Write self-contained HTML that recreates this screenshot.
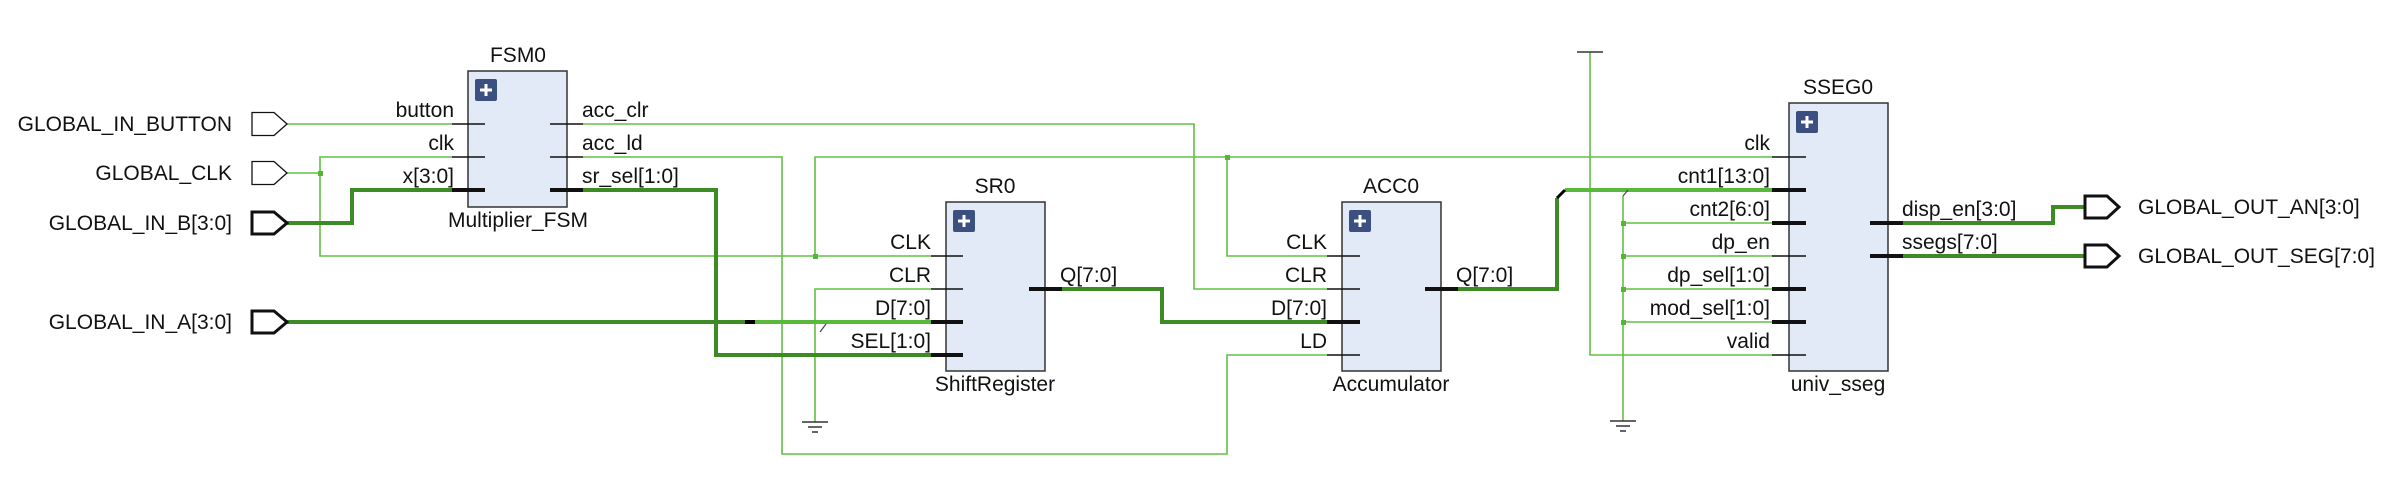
<!DOCTYPE html>
<html><head><meta charset="utf-8"><style>
html,body{margin:0;padding:0;background:#fff;}
svg{display:block;}
text{font-family:"Liberation Sans",sans-serif;font-size:21px;fill:#111;}
</style></head><body>
<svg width="2392" height="482" viewBox="0 0 2392 482" xmlns="http://www.w3.org/2000/svg">
<g fill="none" stroke-linejoin="miter">
<g stroke="#62c043" stroke-width="1.6">
<polyline points="287,124 452,124"/>
<polyline points="583,124 1194,124 1194,289 1327,289"/>
<polyline points="287,173 320,173"/>
<polyline points="452,157 320,157 320,256 931,256"/>
<polyline points="815,256 815,157 1772,157"/>
<polyline points="1227,157 1227,256 1327,256"/>
<polyline points="583,157 782,157 782,454 1227,454 1227,355 1327,355"/>
<polyline points="931,289 815,289 815,422"/>
<polyline points="1590,52 1590,355 1772,355"/>
<polyline points="1623,196 1623,421"/>
<polyline points="1623,223 1772,223"/>
<polyline points="1623,256 1772,256"/>
<polyline points="1623,289 1772,289"/>
<polyline points="1623,322 1772,322"/>
</g>
<g stroke="#3d8b25" stroke-width="4">
<polyline points="287,223 352,223 352,190 452,190"/>
<polyline points="583,190 716,190 716,355 931,355"/>
<polyline points="287,322 753,322"/>
<polyline points="1062,289 1162,289 1162,322 1327,322"/>
<polyline points="1458,289 1557,289 1557,198"/>
<polyline points="1903,223 2053,223 2053,207 2085,207"/>
<polyline points="1903,256 2085,256"/>
</g>
<g stroke="#5ab83c" stroke-width="4">
<polyline points="753,322 931,322"/>
<polyline points="1565,190 1772,190"/>
</g>
<line x1="1557" y1="198" x2="1565" y2="190" stroke="#000" stroke-width="3"/>
<line x1="820" y1="332" x2="826" y2="324" stroke="#444" stroke-width="1.2"/>
<line x1="1623" y1="196" x2="1628" y2="190" stroke="#444" stroke-width="1.2"/>
<line x1="745" y1="322" x2="755" y2="322" stroke="#000" stroke-width="4"/>
<line x1="1577" y1="52" x2="1603" y2="52" stroke="#333" stroke-width="1.5"/>
<g stroke="#333" stroke-width="1.5">
<line x1="802" y1="422" x2="828" y2="422"/><line x1="808" y1="427" x2="822" y2="427"/><line x1="812" y1="432" x2="818" y2="432"/>
<line x1="1610" y1="421" x2="1636" y2="421"/><line x1="1616" y1="426" x2="1630" y2="426"/><line x1="1620" y1="431" x2="1626" y2="431"/>
</g>
</g>
<g fill="#55b534">
<rect x="318" y="171" width="5" height="5"/>
<rect x="813" y="254" width="5" height="5"/>
<rect x="1225" y="155" width="5" height="5"/>
<rect x="1621" y="221" width="5" height="5"/>
<rect x="1621" y="254" width="5" height="5"/>
<rect x="1621" y="287" width="5" height="5"/>
<rect x="1621" y="320" width="5" height="5"/>
</g>
<g fill="#fff" stroke="#111">
<polygon stroke-width="1.3" points="252,112.5 274,112.5 287,124 274,135.5 252,135.5"/>
<polygon stroke-width="1.3" points="252,161.5 274,161.5 287,173 274,184.5 252,184.5"/>
<polygon stroke-width="3" points="252,212 274,212 287,223 274,234 252,234"/>
<polygon stroke-width="3" points="252,311 274,311 287,322 274,333 252,333"/>
<polygon stroke-width="3" points="2085,196 2107,196 2119,207 2107,218 2085,218"/>
<polygon stroke-width="3" points="2085,245 2107,245 2119,256 2107,267 2085,267"/>
</g>
<g text-anchor="end">
<text x="232" y="131">GLOBAL_IN_BUTTON</text>
<text x="232" y="180">GLOBAL_CLK</text>
<text x="232" y="230">GLOBAL_IN_B[3:0]</text>
<text x="232" y="329">GLOBAL_IN_A[3:0]</text>
</g>
<text x="2138" y="214">GLOBAL_OUT_AN[3:0]</text>
<text x="2138" y="263">GLOBAL_OUT_SEG[7:0]</text>
<g fill="#e1eaf6" stroke="#333" stroke-width="1.5">
<rect x="468" y="71" width="99" height="136"/>
<rect x="946" y="202" width="99" height="169"/>
<rect x="1342" y="202" width="99" height="169"/>
<rect x="1789" y="103" width="99" height="268"/>
</g>
<g>
<rect x="475" y="79" width="22" height="22" rx="2" fill="#3b4f80"/>
<rect x="953" y="210" width="22" height="22" rx="2" fill="#3b4f80"/>
<rect x="1349" y="210" width="22" height="22" rx="2" fill="#3b4f80"/>
<rect x="1796" y="111" width="22" height="22" rx="2" fill="#3b4f80"/>
<g stroke="#fff" stroke-width="3">
<path d="M480,90h12M486,84v12"/>
<path d="M958,221h12M964,215v12"/>
<path d="M1354,221h12M1360,215v12"/>
<path d="M1801,122h12M1807,116v12"/>
</g>
</g>
<g stroke="#111" stroke-width="1.5">
<path d="M452,124h33M452,157h33M550,124h33M550,157h33"/>
<path d="M931,256h32M931,289h32"/>
<path d="M1327,256h33M1327,289h33M1327,355h33"/>
<path d="M1772,157h34M1772,256h34M1772,355h34"/>
</g>
<g stroke="#111" stroke-width="4">
<path d="M452,190h33M550,190h33"/>
<path d="M931,322h32M931,355h32M1029,289h33"/>
<path d="M1327,322h33M1425,289h33"/>
<path d="M1772,190h34M1772,223h34M1772,289h34M1772,322h34M1870,223h33M1870,256h33"/>
</g>
<g text-anchor="middle">
<text x="518" y="62">FSM0</text>
<text x="518" y="227">Multiplier_FSM</text>
<text x="995" y="193">SR0</text>
<text x="995" y="391">ShiftRegister</text>
<text x="1391" y="193">ACC0</text>
<text x="1391" y="391">Accumulator</text>
<text x="1838" y="94">SSEG0</text>
<text x="1838" y="391">univ_sseg</text>
</g>
<g text-anchor="end">
<text x="454" y="117">button</text>
<text x="454" y="150">clk</text>
<text x="454" y="183">x[3:0]</text>
<text x="931" y="249">CLK</text>
<text x="931" y="282">CLR</text>
<text x="931" y="315">D[7:0]</text>
<text x="931" y="348">SEL[1:0]</text>
<text x="1327" y="249">CLK</text>
<text x="1327" y="282">CLR</text>
<text x="1327" y="315">D[7:0]</text>
<text x="1327" y="348">LD</text>
<text x="1770" y="150">clk</text>
<text x="1770" y="183">cnt1[13:0]</text>
<text x="1770" y="216">cnt2[6:0]</text>
<text x="1770" y="249">dp_en</text>
<text x="1770" y="282">dp_sel[1:0]</text>
<text x="1770" y="315">mod_sel[1:0]</text>
<text x="1770" y="348">valid</text>
</g>
<text x="582" y="117">acc_clr</text>
<text x="582" y="150">acc_ld</text>
<text x="582" y="183">sr_sel[1:0]</text>
<text x="1060" y="282">Q[7:0]</text>
<text x="1456" y="282">Q[7:0]</text>
<text x="1902" y="216">disp_en[3:0]</text>
<text x="1902" y="249">ssegs[7:0]</text>
</svg>
</body></html>
